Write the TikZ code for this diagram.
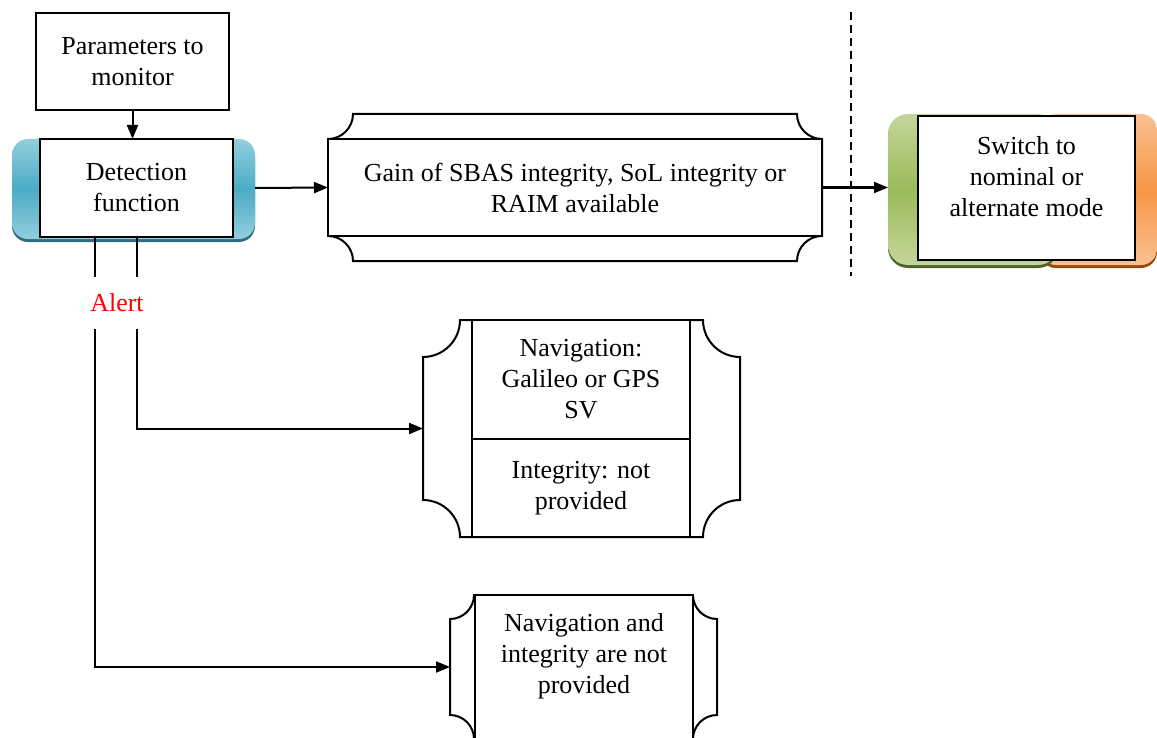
\documentclass[tikz,border=0pt]{standalone}
\usepackage{fontspec}
\setmainfont{Liberation Serif}
\usetikzlibrary{arrows.meta,calc,positioning}
\definecolor{detlight}{HTML}{93CDDD}
\definecolor{detmid}{HTML}{4BACC6}
\definecolor{detdark}{HTML}{2E6E80}
\definecolor{grnlight}{HTML}{C3D69B}
\definecolor{grnmid}{HTML}{9BBB59}
\definecolor{grndark}{HTML}{4F6228}
\definecolor{orglight}{HTML}{FAC090}
\definecolor{orgmid}{HTML}{F79646}
\definecolor{orgdark}{HTML}{984807}
\tikzset{
  box/.style={draw,fill=white,inner sep=0pt,outer sep=0pt,align=center,font=\fontsize{13}{15.5}\selectfont},
  frame/.style={inner sep=0pt,outer sep=0pt},
  arr/.style={-{Triangle[length=7pt,width=5.5pt]}},
  boxtext/.style={anchor=north,align=center,font=\fontsize{13}{15.5}\selectfont}
}
% plaque outline round a frame node: #1 node, #2 corner radius
\newcommand{\plaque}[2]{%
  \draw[fill=white] ($(#1.north west)+(#2,0)$) -- ($(#1.north east)+(-#2,0)$)
    .. controls +(0,0.55*#2) and +(-0.55*#2,0) .. ($(#1.north east)+(0,#2)$)
    -- ($(#1.south east)+(0,-#2)$)
    .. controls +(-0.55*#2,0) and +(0,-0.55*#2) .. ($(#1.south east)+(-#2,0)$)
    -- ($(#1.south west)+(#2,0)$)
    .. controls +(0,-0.55*#2) and +(0.55*#2,0) .. ($(#1.south west)+(0,-#2)$)
    -- ($(#1.north west)+(0,#2)$)
    .. controls +(0.55*#2,0) and +(0,0.55*#2) .. cycle;}

\begin{document}
\begin{tikzpicture}[x=0.5pt,y=-0.5pt,line width=1pt]
  \useasboundingbox (0,0) rectangle (1157,738);

  % parameters and detection
  \node[box,minimum width=96.5pt,minimum height=48.5pt] (params) at (132.5,61.5) {Parameters to\\monitor};
  \node[frame,rounded corners=8pt,fill=detdark,minimum width=121.5pt,minimum height=50pt] at (133.5,192) {};
  \node[frame,rounded corners=8pt,top color=detlight,bottom color=detlight,middle color=detmid,
        minimum width=121.5pt,minimum height=50pt] (detframe) at (133.5,189) {};
  \node[box,minimum width=96.5pt,minimum height=49pt] (det) at (136.5,188) {Detection\\function};

  % gain of integrity
  \node[frame,minimum width=247pt,minimum height=73.5pt] (gainframe) at (575,187.5) {};
  \plaque{gainframe}{25}
  \node[box,minimum width=247pt,minimum height=48.5pt] (gain) at (575,187.5)
    {Gain of SBAS integrity, SoL integrity or\\RAIM available};

  % switch
  \node[frame,rounded corners=8pt,fill=orgdark,minimum width=58.5pt,minimum height=75.5pt] at (1098.5,192.5) {};
  \node[frame,rounded corners=8pt,top color=orglight,bottom color=orglight,middle color=orgmid,
        minimum width=58.5pt,minimum height=75.5pt] (sworange) at (1098.5,189.5) {};
  \node[frame,rounded corners=10pt,fill=grndark,minimum width=85pt,minimum height=75.5pt] at (973,192.5) {};
  \node[frame,rounded corners=10pt,top color=grnlight,bottom color=grnlight,middle color=grnmid,
        minimum width=85pt,minimum height=75.5pt] (swgreen) at (973,189.5) {};
  \node[box,minimum width=108.5pt,minimum height=72pt,
        label={[boxtext,yshift=-6.5pt]north:Switch to\\nominal or\\alternate mode}] (sw) at (1026.5,188) {};

  \coordinate (dtop) at (851,12);
  \coordinate (dbot) at (851,276);
  \draw[dash pattern=on 4pt off 2.5pt] (dtop) -- (dbot);

  % alert branches
  \node[frame,minimum width=158.5pt,minimum height=108.5pt] (navframe) at (581.5,428.5) {};
  \plaque{navframe}{37}
  \node[box,minimum width=109pt,minimum height=59.5pt] (nav1) at (581,379.5) {Navigation:\\Galileo or GPS\\SV};
  \node[box,minimum width=109pt,minimum height=49pt] (nav2) at (581,488) {Integrity: not\\provided};

  \node[frame,minimum width=133.5pt,minimum height=72pt] (navintframe) at (583.5,667) {};
  \plaque{navintframe}{24}
  \node[box,minimum width=109pt,minimum height=92.5pt,
        label={[boxtext,yshift=-5.5pt]north:Navigation and\\integrity are not\\provided}] (navint) at (584,687.5) {};

  \node[text=red,inner sep=0pt,minimum height=25pt,font=\fontsize{13}{15.5}\selectfont] (alert) at (117,303) {Alert};
  \coordinate (aleft) at ([xshift=-20.75pt]det.south);

  % connectors
  \draw[arr] (params.south) -- (params.south |- det.north);
  \draw[arr] (det.east -| detframe.east) -- (gain.west);
  \draw[arr] (gain.east) -- (gain.east -| swgreen.west);
  \draw (det.south) -- (det.south |- alert.north);
  \draw (aleft) -- (aleft |- alert.north);
  \draw[arr] (det.south |- alert.south) |- (navframe.west);
  \draw[arr] (aleft |- alert.south) |- (navintframe.west);
\end{tikzpicture}
\end{document}
